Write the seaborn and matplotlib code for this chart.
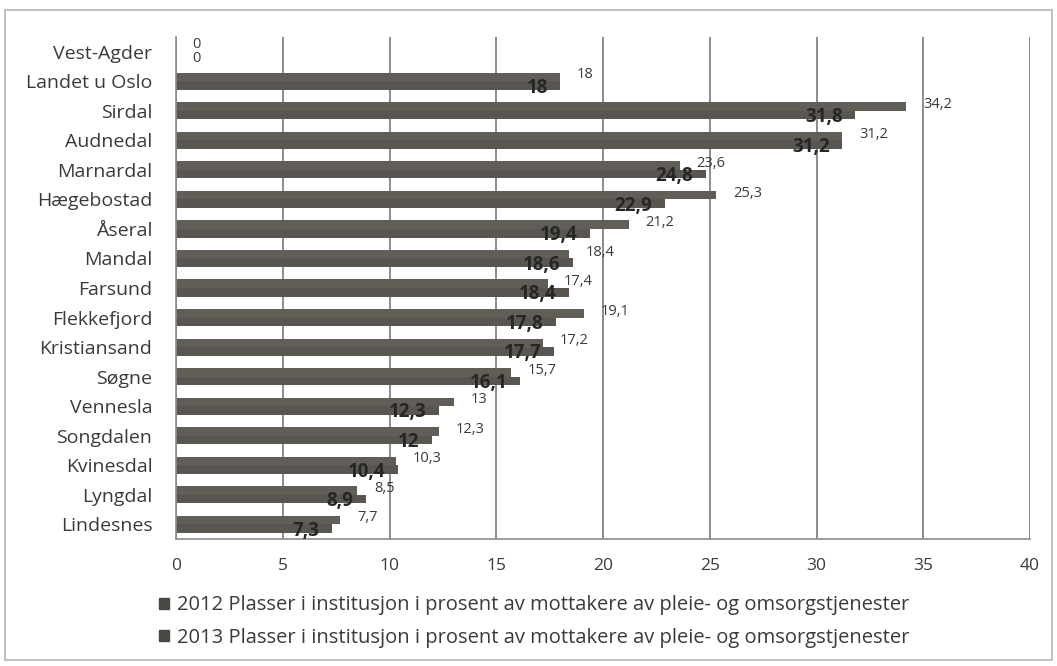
import matplotlib
matplotlib.use("Agg")
import matplotlib.pyplot as plt
import matplotlib.patches as mpatches
import numpy as np
import pandas as pd
import seaborn as sns

kommuner = ["Vest-Agder", "Landet u Oslo", "Sirdal", "Audnedal", "Marnardal",
            "Hægebostad", "Åseral", "Mandal", "Farsund", "Flekkefjord",
            "Kristiansand", "Søgne", "Vennesla", "Songdalen", "Kvinesdal",
            "Lyngdal", "Lindesnes"]
verdi_2012 = [0, 18, 34.2, 31.2, 23.6, 25.3, 21.2, 18.4, 17.4, 19.1,
              17.2, 15.7, 13, 12.3, 10.3, 8.5, 7.7]
verdi_2013 = [0, 18, 31.8, 31.2, 24.8, 22.9, 19.4, 18.6, 18.4, 17.8,
              17.7, 16.1, 12.3, 12, 10.4, 8.9, 7.3]
serie_navn = ["2012 Plasser i institusjon i prosent av mottakere av pleie- og omsorgstjenester",
              "2013 Plasser i institusjon i prosent av mottakere av pleie- og omsorgstjenester"]
x_ticks = [0, 5, 10, 15, 20, 25, 30, 35, 40]

farger = ["#615e58", "#595651"]
tekst = "#3a3a3a"

sns.set_theme(style="white")
plt.rcParams["font.family"] = ["Open Sans", "DejaVu Sans"]

df = pd.DataFrame({
    "kommune": kommuner * 2,
    "verdi": verdi_2012 + verdi_2013,
    "serie": [serie_navn[0]] * len(kommuner) + [serie_navn[1]] * len(kommuner),
})

fig = plt.figure(figsize=(10.57, 6.66), dpi=100)
ax = fig.add_axes([0.1665, 0.1907, 0.808, 0.7537])

sns.barplot(data=df, x="verdi", y="kommune", hue="serie", order=kommuner,
            hue_order=serie_navn, palette=farger, orient="h", width=0.58,
            dodge=True, saturation=1, legend=False, ax=ax, edgecolor="none")

ax.set_xlim(0, 40)
ax.set_ylim(len(kommuner) - 0.5, -0.5)
ax.set_xticks(x_ticks)
ax.set_xticklabels([str(t) for t in x_ticks], fontsize=12.5, color=tekst)
ax.set_xlabel("")
ax.set_ylabel("")

# vertical gridlines
ax.grid(axis="x", color="#8c8c8c", linewidth=1.4)
ax.grid(axis="y", visible=False)
ax.set_axisbelow(True)

for side in ["top", "right"]:
    ax.spines[side].set_visible(False)
for side in ["left", "bottom"]:
    ax.spines[side].set_color("#8c8c8c")
    ax.spines[side].set_linewidth(1.2)

# category labels without ticks; boundary ticks on the left axis
ax.set_yticks(range(len(kommuner)))
ax.set_yticklabels(kommuner, fontsize=14, color=tekst)
ax.tick_params(axis="y", length=0, pad=17)
ax.set_yticks(np.arange(-0.5, len(kommuner), 1), minor=True)
ax.tick_params(axis="y", which="minor", length=5, color="#8c8c8c", width=1)
ax.tick_params(axis="x", length=5, color="#8c8c8c", width=1, pad=9)

def fmt(v):
    s = f"{v:.1f}".replace(".", ",")
    return s[:-2] if s.endswith(",0") else s

# 2012: value outside bar end; 2013: value inside bar end
for bar, v in zip(ax.containers[0], verdi_2012):
    yc = bar.get_y() + bar.get_height() / 2
    dy = 2 if v <= 0 else 1.5
    ax.annotate(fmt(v), xy=(v, yc), xytext=(12, dy), textcoords="offset points",
                ha="left", va="center", fontsize=10.5, color=tekst)
for bar, v in zip(ax.containers[1], verdi_2013):
    yc = bar.get_y() + bar.get_height() / 2
    if v <= 0:
        ax.annotate(fmt(v), xy=(v, yc), xytext=(12, -2), textcoords="offset points",
                    ha="left", va="center", fontsize=10.5, color=tekst)
    else:
        ax.annotate(fmt(v), xy=(v, yc), xytext=(-9, -1.5), textcoords="offset points",
                    ha="right", va="center", fontsize=13.5, fontweight="bold",
                    color="#262626")

handles = [mpatches.Patch(color="#4a4845", label=n) for n in serie_navn]
fig.legend(handles=handles, loc="upper left", bbox_to_anchor=(0.150, 0.106),
           frameon=False, fontsize=14.5, handlelength=0.5, handleheight=0.5,
           handletextpad=0.4, labelspacing=0.62, labelcolor=tekst,
           borderaxespad=0, borderpad=0)

# outer chart frame
fig.patches.append(mpatches.Rectangle((0.005, 0.009), 0.99, 0.976,
                                      transform=fig.transFigure, fill=False,
                                      edgecolor="#b4b4b4", linewidth=1.2))

fig.savefig("out.png", dpi=100)
